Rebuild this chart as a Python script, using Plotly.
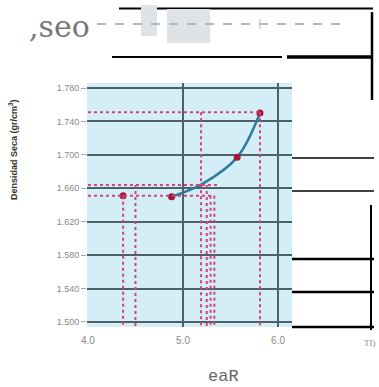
import plotly.graph_objects as go

# ---- data ----
curve_x = [4.88, 5.20, 5.57, 5.81]
curve_y = [1.650, 1.665, 1.697, 1.750]
marker_x = [4.37, 4.88, 5.57, 5.81]
marker_y = [1.651, 1.650, 1.697, 1.750]
y_ticks = [1.500, 1.540, 1.580, 1.620, 1.660, 1.700, 1.740, 1.780]
y_ticktext = ["1.500", "1.540", "1.580", "1.620", "1.660", "1.700", "1.740", "1.780"]
x_ticks = [4.0, 5.0, 6.0]
x_ticktext = ["4.0", "5.0", "6.0"]
# red dotted guide lines
guide_h = [(4.0, 1.751, 5.81), (4.0, 1.664, 5.37), (4.0, 1.651, 5.33)]
guide_v = [(5.81, 1.751), (5.19, 1.751), (4.50, 1.664), (4.37, 1.651),
           (5.25, 1.664), (5.29, 1.651), (5.33, 1.651)]
y_bottom = 1.494

W, H = 379, 387
L, R, T, B = 87, 292, 83, 327

def px(x):
    return (x - L) / (R - L)

def py(y):
    return (B - y) / (B - T)

fig = go.Figure()
fig.add_trace(go.Scatter(x=curve_x, y=curve_y, mode="lines",
                         line=dict(color="#2f7c98", width=2.5, shape="spline"),
                         showlegend=False, hoverinfo="skip"))
fig.add_trace(go.Scatter(x=marker_x, y=marker_y, mode="markers",
                         marker=dict(color="#a3173f", size=7),
                         showlegend=False))

shapes = []
red = "#d8407a"
for x0, y0, x1 in guide_h:
    shapes.append(dict(type="line", xref="x", yref="y", x0=x0, x1=x1, y0=y0, y1=y0,
                       line=dict(color=red, width=2, dash="dot"), layer="above"))
for x0, y0 in guide_v:
    shapes.append(dict(type="line", xref="x", yref="y", x0=x0, x1=x0, y0=y0, y1=y_bottom,
                       line=dict(color=red, width=2, dash="dot"), layer="above"))

def pline(x0, y0, x1, y1, w=2, color="black", dash=None):
    ln = dict(color=color, width=w)
    if dash:
        ln["dash"] = dash
    shapes.append(dict(type="line", xref="paper", yref="paper",
                       x0=px(x0), x1=px(x1), y0=py(y0), y1=py(y1), line=ln))

def prect(x0, y0, x1, y1, color, layer="above"):
    shapes.append(dict(type="rect", xref="paper", yref="paper",
                       x0=px(x0), x1=px(x1), y0=py(y0), y1=py(y1),
                       fillcolor=color, line=dict(width=0), layer=layer))

# top decorations
prect(119, 7.5, 373, 9.5, "black")
prect(141, 5, 157, 36, "#dfe3e6")
prect(167, 9, 210, 43, "#dfe3e6")
pline(97, 24, 348, 24, w=2, color="#a9bcc2", dash="dash")
pline(260, 19, 260, 29, w=1, color="#a9bcc2")
pline(372, 12, 372, 100, w=2.5)
pline(112, 57, 282, 57, w=2)
pline(287, 57, 372, 57, w=3.5)
# right decorations
pline(292, 158, 374, 158, w=1.5)
pline(292, 191, 374, 191, w=1.5)
pline(371, 205, 371, 330, w=2)
pline(292, 259, 374, 259, w=2.5)
pline(292, 292, 374, 292, w=2.5)
pline(292, 327, 374, 327, w=2.5)

def ann(text, x, y, **kw):
    d = dict(text=text, xref="paper", yref="paper", x=px(x), y=py(y),
             xanchor="center", yanchor="middle", showarrow=False)
    d.update(kw)
    return d

annotations = [
    ann(",seo", 59, 26, font=dict(family="DejaVu Serif", size=30, color="#777777")),
    ann("eaR", 223, 376, font=dict(family="Liberation Mono", size=17, color="#666666")),
    ann("TI)", 370, 343, font=dict(family="Liberation Serif", size=9, color="#888888")),
    ann("<b>Densidad Seca (gr/cm<sup>3</sup>)</b>", 13, 150, textangle=-90,
        font=dict(family="Liberation Sans", size=9, color="#333333")),
]

fig.update_layout(
    width=W, height=H,
    margin=dict(l=L, r=W - R, t=T, b=H - B),
    paper_bgcolor="white", plot_bgcolor="#d3eef6",
    shapes=shapes, annotations=annotations,
    font=dict(family="Liberation Sans", size=10, color="#888888"),
)
fig.update_xaxes(range=[3.99, 6.147], tickvals=x_ticks, ticktext=x_ticktext,
                 showgrid=True, gridcolor="#4d6068", gridwidth=1.5,
                 zeroline=False, showline=False, ticks="", ticklabelstandoff=6,
                 tickfont=dict(size=10, color="#888888"))
fig.update_yaxes(range=[1.494, 1.786], tickvals=y_ticks, ticktext=y_ticktext,
                 showgrid=True, gridcolor="#4d6068", gridwidth=1.5,
                 zeroline=False, showline=False, ticks="outside", ticklen=5,
                 tickcolor="#aaaaaa", tickfont=dict(size=9, color="#888888"))

fig.write_html(
    "out.html",
    config={"displayModeBar": False},
    post_script="document.body.style.margin='0';document.body.style.overflow='hidden';",
)
